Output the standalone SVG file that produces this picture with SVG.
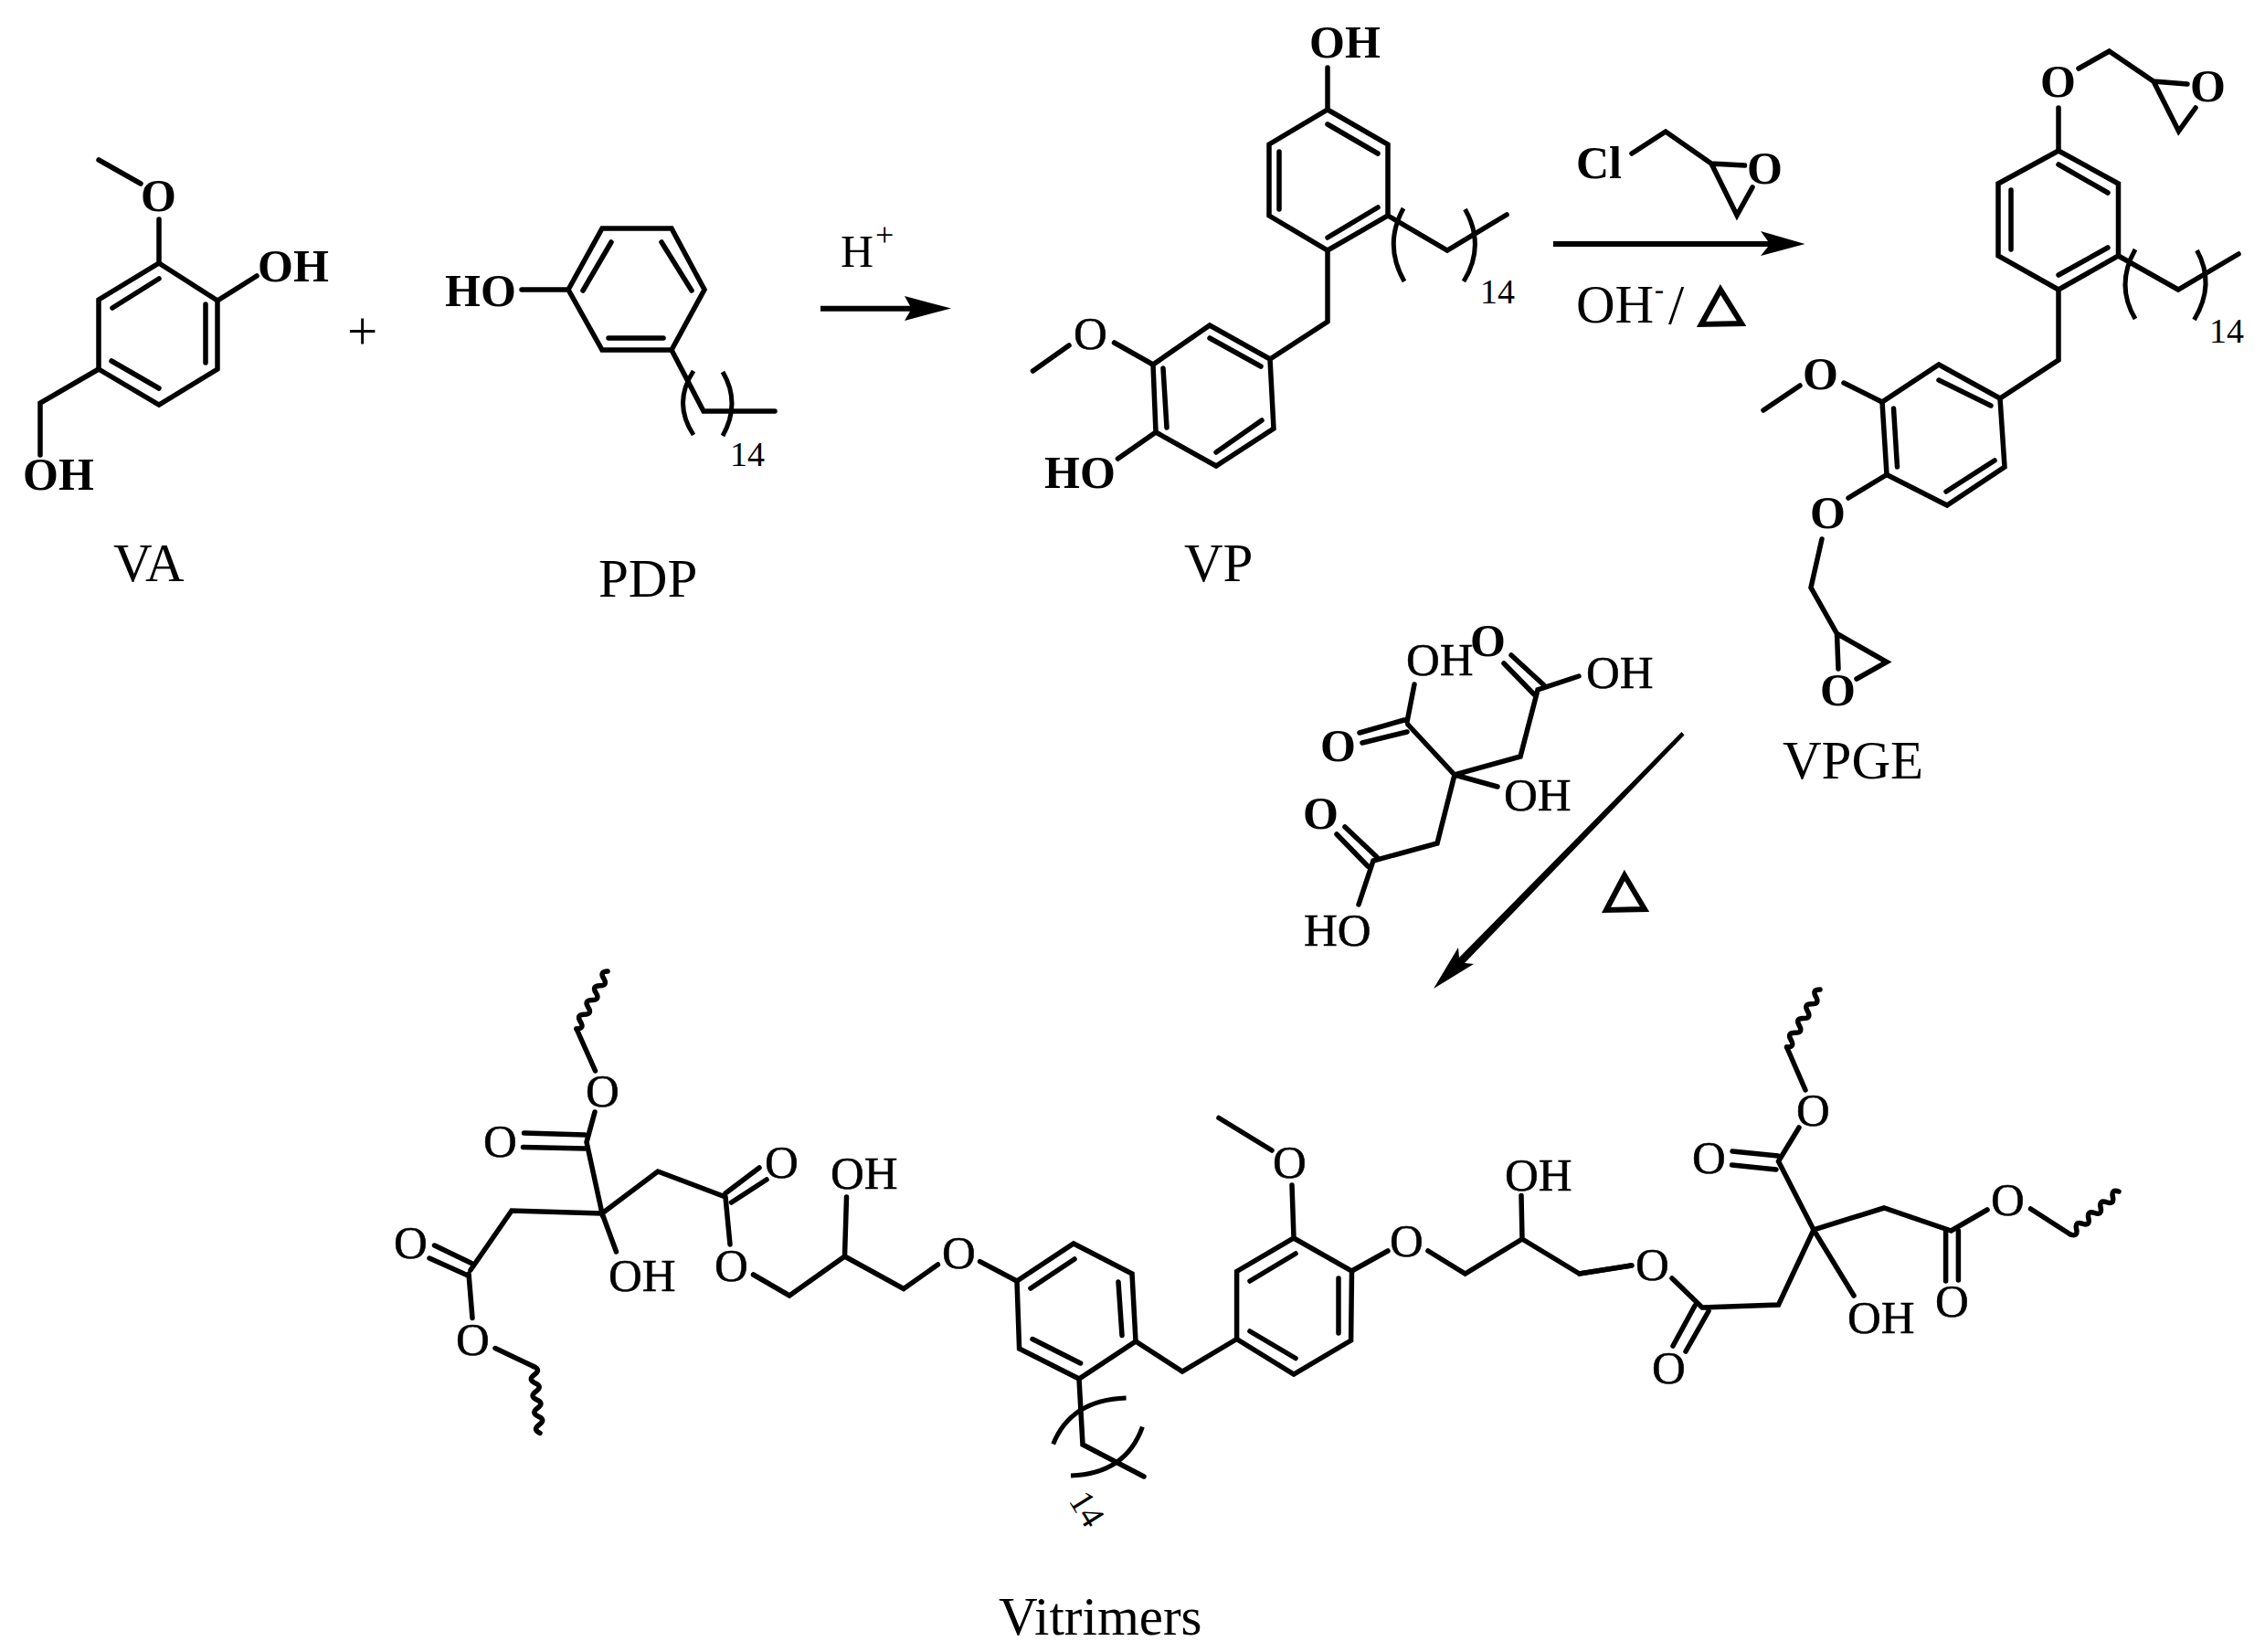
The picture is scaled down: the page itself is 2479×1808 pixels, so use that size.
<svg xmlns="http://www.w3.org/2000/svg" width="2479" height="1808" viewBox="0 0 2479 1808">
<style>
.b{fill:none;stroke:#000;stroke-width:5.500;stroke-linecap:round;stroke-linejoin:miter}
.p{fill:none;stroke:#000;stroke-width:5}
.w{fill:none;stroke:#000;stroke-width:5.500;stroke-linecap:round}
.t{font-family:"Liberation Serif","Times New Roman",serif;fill:#000}
.a{font-size:51px;stroke:#000;stroke-width:.5}
.ab{font-size:50px;font-weight:bold}
.l{font-size:59px}
.n{font-size:38px}
.tri{fill:none;stroke:#000;stroke-width:6;stroke-linejoin:miter}
</style>
<rect width="2479" height="1808" fill="#fff"/>

<g id="VA">
<path class="b" d="M108 175L154 201M174 240V288M108 404L44 441V498M238 329L281 302"/>
<path class="b" d="M174 288L238 329V404L174 443L108 404V328ZM174 305L123 337M225 333V397M122 395L174 425"/>
<text class="t ab" x="154" y="231">O</text>
<text class="t ab" x="282" y="308">OH</text>
<text class="t ab" x="25" y="536">OH</text>
<text class="t l" x="124" y="636">VA</text>
</g>
<text id="plus" class="t l" x="380" y="382">+</text>

<g id="PDP">
<path class="b" d="M659 250H735L771 317L735 383H659L622 317ZM669 265L638 318M724 265L757 318M666 370H726M622 317H571"/>
<path class="b" d="M735 383L770 450H848"/>
<path class="p" d="M759 406Q736 441 759 476M791 407Q811 441 791 477"/>
<text class="t ab" x="487" y="335">HO</text>
<text class="t n" x="799" y="510">14</text>
<text class="t l" x="655" y="653">PDP</text>
</g>

<g id="VP">
<path class="b" d="M1453 74V120M1453 120L1519 158V236L1453 274L1389 236V158ZM1453 136L1508 168M1400 166V229M1453 260L1508 227"/>
<path class="b" d="M1519 236L1584 274L1649 235M1453 274V352L1390 393"/>
<path class="p" d="M1536 228Q1514 268 1537 308M1603.500 229Q1626 269 1602 308"/>
<path class="b" d="M1390 393L1324 356L1262 399L1265 473L1331 510L1394 469ZM1324 370L1380 401M1273 403L1277 468M1381 460L1331 495"/>
<path class="b" d="M1219.500 375L1262 399M1170 378L1130.500 406M1265 473L1223.500 502"/>
<text class="t ab" x="1433" y="63">OH</text>
<text class="t n" x="1620" y="332">14</text>
<text class="t a" x="1175" y="382">O</text>
<text class="t ab" x="1143" y="534">HO</text>
<text class="t l" x="1296" y="636">VP</text>
</g>

<g id="epichlorohydrin">
<path class="b" d="M1786 168L1823 144L1873 179L1909.500 181M1873 179L1901 235.500L1918 205"/>
<text class="t ab" x="1725" y="195">Cl</text>
<text class="t ab" x="1912" y="201">O</text>
</g>

<g id="VPGE">
<path class="b" d="M2253 118V165M2253 165L2318.500 201V280L2253 317L2187 280V201ZM2253 180L2307 211M2201 208V273M2253 301L2307 271"/>
<path class="b" d="M2318.500 280L2384 317L2450 278M2253 317V394L2189 436"/>
<path class="p" d="M2337 273Q2315 312 2337 349M2404.500 274Q2425 311 2401.500 350"/>
<path class="b" d="M2275 75L2308.500 56L2357 89L2394 92M2357 89L2384.500 143.500L2403 118"/>
<path class="b" d="M2189 436L2122 399L2060 440L2065 519.500L2131 553L2194 511ZM2122 416L2179 444M2072.500 447L2076.500 511M2183 504L2130 538"/>
<path class="b" d="M2018 419L2060 440M1970 422L1930 449M2023 545L2065 519.500M1994 590L1982 643L2010.500 693.500L2065 724.500L2032 743M2010.500 693.500L2012 732"/>
<text class="t ab" x="2233" y="106">O</text>
<text class="t ab" x="2397" y="111">O</text>
<text class="t n" x="2418" y="375">14</text>
<text class="t ab" x="1973" y="426">O</text>
<text class="t ab" x="1981" y="578">O</text>
<text class="t ab" x="1992" y="772">O</text>
<text class="t l" x="1951" y="852">VPGE</text>
</g>

<g id="citric-acid">
<path class="b" d="M1548 749L1540 790M1488 802L1537 788M1491 813L1540 801M1541 793L1592 848L1664 828L1683 755L1728 740M1654 717L1690 750M1646 726L1679 760M1592 848L1639 861M1592 848L1573 923L1503 942L1487 990M1472 905L1507 938M1463 913L1497 948"/>
<text class="t a" x="1539" y="739">OH</text>
<text class="t ab" x="1609" y="718">O</text>
<text class="t ab" x="1445" y="833">O</text>
<text class="t a" x="1736" y="753">OH</text>
<text class="t a" x="1646" y="887">OH</text>
<text class="t a" x="1427" y="1035">HO</text>
<text class="t ab" x="1426" y="907">O</text>
</g>

<g id="conditions">
<text class="t" font-size="50" x="920" y="292">H</text>
<text class="t" font-size="36" x="958" y="269">+</text>
<text class="t" font-size="59" x="1725" y="353">OH</text>
<text class="t" font-size="30" x="1811" y="327" font-weight="bold">-</text>
<text class="t" font-size="62" x="1826" y="354">/</text>
<polygon class="tri" points="1883,317 1862,355 1906,354"/>
<polygon class="tri" points="1778,958 1758,996 1800,995"/>
</g>

<g id="connectors">
<path d="M898 334.700H996L990 324L1041 337.500L990 351L996 340.700H898Z" fill="#000"/>
<path d="M1700 264H1935L1927 253L1975.500 267L1927 280L1935 270H1700Z" fill="#000"/>
<path d="M1840.500 801L1843.500 804.500L1603 1054L1613 1055L1569 1082L1596 1037L1597 1048Z" fill="#000"/>
</g>

<g id="Vitrimers">
<path class="w" d="M631 1126q9.100 -0.100 4.250 -7.875t4.250 -7.875t4.250 -7.875t4.250 -7.875t4.250 -7.875t4.250 -7.875t4.250 -7.875t4.250 -7.875"/>
<path class="b" d="M631 1126L651.500 1172M651 1217L642 1250M573.500 1240L640 1242M572.500 1255.500L640 1257M642 1250L659 1328L720 1282L794 1310M794 1306L831 1278M800.500 1316L839 1291M794 1310L799 1362M824.500 1395L864 1418L924.500 1375L926.500 1310M924.500 1375L989 1410.500L1026.500 1384M1072.500 1380.600L1113 1402"/>
<path class="b" d="M659 1328L560 1325L515 1390M475.500 1363L516 1382.500M470 1377L512 1396M513 1394L517 1442.600M542 1475.500L584 1495.400M659 1328L674.500 1370"/>
<path class="w" d="M584 1495.400q8.440 3.760 0.875 9.125t0.875 9.125t0.875 9.125t0.875 9.125t0.875 9.125t0.875 9.125t0.875 9.125t0.875 9.125"/>
<text class="t a" x="641" y="1211">O</text>
<text class="t a" x="529" y="1266">O</text>
<text class="t a" x="837" y="1289">O</text>
<text class="t a" x="782" y="1402">O</text>
<text class="t a" x="909" y="1301">OH</text>
<text class="t a" x="1031" y="1388">O</text>
<text class="t a" x="431" y="1377">O</text>
<text class="t a" x="499" y="1483">O</text>
<text class="t a" x="666" y="1413">OH</text>

<path class="b" d="M1113 1402L1175 1361L1239 1394L1243 1468L1181 1509L1115.600 1476ZM1128 1410L1176 1378M1224 1403L1228 1461.500M1130 1465.500L1182.600 1492"/>
<path class="b" d="M1181 1509L1185 1581L1252 1616M1243 1468L1294 1501L1353.600 1465.500"/>
<path class="p" d="M1232.600 1530Q1172 1532 1152.700 1580.500M1250.400 1561.600Q1232 1613 1172 1615"/>
<text class="t n" x="0" y="0" transform="translate(1169 1642) rotate(58)">14</text>

<path class="b" d="M1353.600 1465.500V1391.500L1416 1355L1479.500 1391L1478.600 1467L1416 1504ZM1368 1402L1418 1372M1465 1399V1459M1368 1457L1418 1486.500"/>
<path class="b" d="M1334 1223.500L1392 1259M1414 1297L1416 1355M1479.500 1391L1519 1369M1563 1369L1603.600 1394L1666 1356L1665 1308.500M1666 1356L1728.600 1394L1785 1385"/>
<text class="t a" x="1393" y="1289">O</text>
<text class="t a" x="1521" y="1375">O</text>
<text class="t a" x="1647" y="1302.600">OH</text>

<path class="w" d="M1955.600 1146q9.200 0.060 4.550 -7.875t4.550 -7.875t4.550 -7.875t4.550 -7.875t4.550 -7.875t4.550 -7.875t4.550 -7.875t4.550 -7.875"/>
<path class="b" d="M1955.600 1146L1976 1193M1969 1234L1946.500 1271M1896 1260L1946 1265M1895.500 1275L1944 1280M1946.500 1271L1985 1346L2062 1322L2135.500 1347L2175 1324M2222.500 1323L2266 1351M2129.600 1347V1402M2143.400 1347V1401M1985 1346L2029 1418M1985 1346L1946.500 1428L1863 1431L1830 1399M1855 1429L1831 1473M1870 1435L1845 1479"/>
<path class="w" d="M2266 1351q8.600 3 6.625 -5.875t6.625 -5.875t6.625 -5.875t6.625 -5.875t6.625 -5.875t6.625 -5.875t6.625 -5.875t6.625 -5.875"/>
<text class="t a" x="1966" y="1232">O</text>
<text class="t a" x="1852" y="1284">O</text>
<text class="t a" x="2179" y="1330">O</text>
<text class="t a" x="2118" y="1441">O</text>
<text class="t a" x="2022" y="1459">OH</text>
<text class="t a" x="1790" y="1401">O</text>
<text class="t a" x="1808" y="1514">O</text>
<path class="b" d="M1786 1385L1728.600 1394"/>
<text class="t l" x="1093" y="1789">Vitrimers</text>
</g>
</svg>
